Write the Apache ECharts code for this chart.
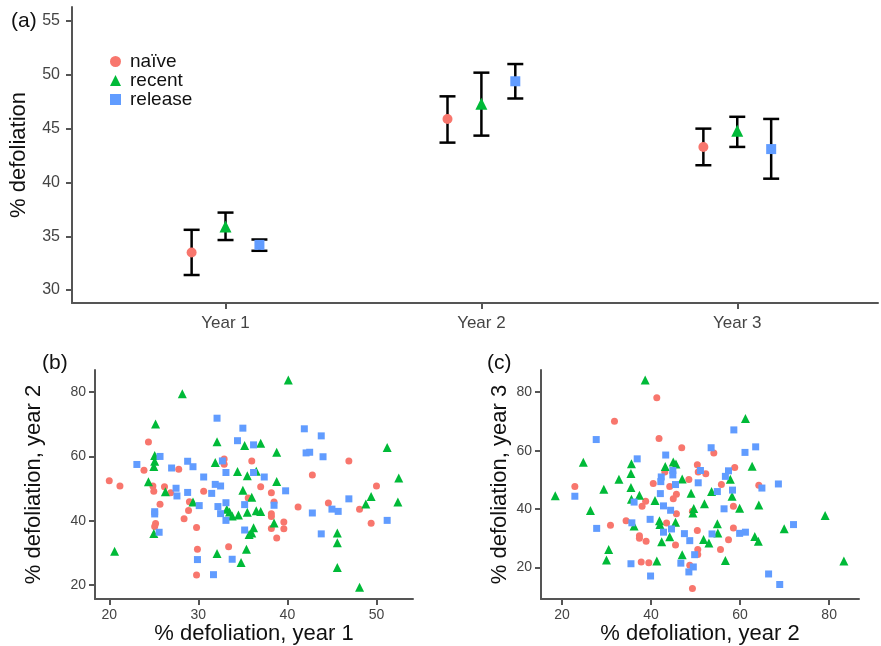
<!DOCTYPE html>
<html>
<head>
<meta charset="utf-8">
<script src="https://cdn.jsdelivr.net/npm/echarts@6/dist/echarts.min.js"></script>
<style>
  html, body { margin: 0; padding: 0; background: #fff; }
  #chart { width: 881px; height: 646px; }
</style>
</head>
<body>
<div id="chart"></div>
<script>
// ---- panel (a): group means with error bars, by year ----
const groups = ['naïve', 'recent', 'release'];
const years = ['Year 1', 'Year 2', 'Year 3'];
const yearPos = [1, 2, 3];

const naiveMean = [33.5, 45.9, 43.3];
const naiveLow = [31.4, 43.7, 41.6];
const naiveHigh = [35.6, 48.0, 45.0];

const recentMean = [35.9, 47.3, 44.8];
const recentLow = [34.65, 44.35, 43.3];
const recentHigh = [37.2, 50.2, 46.1];

const releaseMean = [34.2, 49.4, 43.1];
const releaseLow = [33.65, 47.8, 40.35];
const releaseHigh = [34.7, 51.0, 45.9];

const ticksA = [30, 35, 40, 45, 50, 55];

// ---- panel (b): year 1 vs year 2 defoliation ----
const ticksBx = [20, 30, 40, 50];
const ticksBy = [20, 40, 60, 80];

const naiveY1Y2 = [
  [20.0,52.4],[21.2,50.8],[24.4,64.5],[23.9,55.7],[24.9,50.8],[25.0,49.2],[25.7,45.1],[25.2,39.1],
  [25.1,38.2],[26.2,50.6],[26.9,48.7],[27.8,56.0],[28.4,40.6],[28.9,43.2],[29.0,45.9],[29.8,37.9],
  [29.9,31.1],[29.8,23.1],[30.6,49.2],[32.9,59.2],[32.9,57.6],[33.4,31.9],[36.0,58.6],[35.6,47.1],
  [37.0,50.6],[38.2,48.7],[38.5,45.8],[38.2,42.2],[38.2,41.3],[39.6,39.6],[39.6,37.5],[38.2,37.6],
  [38.8,34.6],[41.2,44.3],[42.8,54.2],[44.6,45.5],[46.9,58.6],[48.1,43.6],[49.4,39.2],[50.0,50.8]
];
const recentY1Y2 = [
  [20.6,30.5],[24.4,52.1],[25.2,70.1],[25.1,60.3],[25.1,58.5],[25.0,56.9],[25.0,36.0],[26.3,49.0],
  [28.2,79.5],[29.4,45.8],[31.9,58.1],[32.1,64.6],[32.1,29.8],[33.2,43.6],[33.5,42.7],[33.8,41.5],
  [34.5,41.8],[34.4,55.3],[35.0,49.5],[35.2,63.4],[35.5,54.0],[35.5,42.6],[35.4,31.1],[34.8,27.0],
  [35.7,35.7],[36.2,37.8],[36.0,36.2],[36.5,55.4],[37.0,64.1],[36.0,47.3],[36.5,43.1],[37.0,42.9],
  [38.8,61.3],[38.8,52.2],[38.5,39.3],[40.1,83.8],[45.6,36.2],[45.6,33.1],[45.6,25.4],[48.1,19.3],
  [48.8,45.2],[49.4,47.5],[51.2,62.8],[52.5,53.3],[52.4,45.8]
];
const releaseY1Y2 = [
  [23.1,57.5],[25.7,60.0],[25.1,42.8],[25.1,42.1],[25.6,36.4],[27.0,56.4],[27.5,50.1],[27.6,47.7],
  [28.8,58.5],[29.4,56.8],[28.8,48.8],[30.1,44.7],[29.9,27.9],[30.6,53.6],[31.7,23.2],[32.1,71.9],
  [31.9,51.3],[32.5,50.8],[31.5,48.5],[32.2,44.4],[32.5,42.2],[33.1,40.1],[32.7,58.6],[33.1,55.0],
  [33.1,45.6],[33.8,28.0],[34.4,64.9],[35.0,68.8],[35.2,45.0],[35.2,37.1],[36.2,63.6],[36.2,55.0],
  [37.4,53.6],[38.5,44.8],[39.8,49.3],[41.9,68.6],[42.1,61.1],[42.5,61.3],[44.0,59.9],[43.8,66.4],
  [42.8,42.4],[43.8,35.9],[45.0,43.6],[45.7,42.9],[46.9,46.8],[51.2,40.1]
];

// ---- panel (c): year 2 vs year 3 defoliation ----
const ticksC = [20, 40, 60, 80];

const naiveY2Y3 = [
  [22.9,47.7],[30.9,34.5],[31.8,70.1],[34.4,36.0],[37.4,30.9],[37.4,30.0],[38.0,41.0],[38.8,42.7],
  [38.9,29.0],[37.8,21.9],[39.5,21.6],[40.5,48.8],[41.3,78.1],[41.8,64.2],[43.1,52.7],[43.5,35.2],
  [44.2,47.7],[45.0,43.5],[45.7,45.1],[45.7,38.4],[45.5,27.7],[46.9,61.0],[48.5,50.1],[48.7,20.8],
  [49.3,12.8],[49.3,39.3],[50.4,55.2],[50.6,52.7],[50.4,32.7],[50.5,26.2],[50.5,24.5],[52.3,52.1],
  [54.1,59.2],[55.6,26.2],[55.8,48.4],[57.4,29.5],[58.5,41.0],[58.5,33.5],[58.8,54.2],[64.2,48.2]
];
const recentY2Y3 = [
  [18.5,44.6],[24.8,56.0],[26.4,39.5],[29.4,46.8],[30.0,22.6],[30.5,26.2],[32.8,50.2],[35.5,52.2],
  [35.6,55.5],[35.5,47.4],[35.6,43.4],[36.2,34.2],[37.4,44.7],[38.7,84.2],[40.9,42.9],[41.3,22.2],
  [41.9,36.0],[42.0,34.7],[42.4,28.8],[43.2,54.6],[44.2,30.5],[45.0,56.1],[45.6,55.4],[45.5,35.5],
  [47.0,50.3],[47.0,24.4],[49.0,45.4],[49.6,40.2],[49.4,38.7],[52.0,41.8],[51.8,29.6],[53.0,28.4],
  [53.6,46.0],[54.9,35.0],[55.0,31.8],[56.7,22.4],[57.8,50.2],[58.2,44.4],[59.9,40.3],[61.2,71.0],
  [62.7,54.7],[63.3,30.6],[64.1,29.0],[64.2,41.4],[69.9,33.3],[79.1,37.8],[83.3,22.2]
];
const releaseY2Y3 = [
  [22.9,44.4],[27.7,63.8],[27.8,33.4],[35.7,35.3],[35.5,21.3],[36.2,42.4],[36.9,57.2],[39.8,36.5],
  [39.9,17.1],[42.1,45.3],[42.3,51.0],[42.2,49.4],[42.8,41.1],[42.8,32.1],[43.3,58.5],[44.4,39.6],
  [44.6,33.2],[44.9,53.2],[44.9,51.7],[45.5,48.4],[46.7,21.5],[47.5,31.6],[48.7,29.2],[48.5,18.5],
  [49.5,20.2],[49.8,24.4],[50.6,49.0],[51.1,53.2],[53.5,61.0],[53.7,31.5],[54.9,46.0],[56.4,40.1],
  [56.7,51.2],[57.4,53.1],[58.3,46.5],[58.6,67.1],[59.9,31.7],[61.1,59.4],[61.2,32.1],[63.5,61.3],
  [64.9,47.2],[66.4,17.8],[68.6,48.6],[68.9,14.2],[72.0,34.7]
];

// ---- styling ----
const FONT = "'Liberation Sans', Arial, Helvetica, sans-serif";
const COLORS = { 'naïve': '#F8766D', 'recent': '#00BA38', 'release': '#619CFF' };
const SYMBOLS = { 'naïve': 'circle', 'recent': 'triangle', 'release': 'rect' };
const SIZE_A = { 'naïve': 10, 'recent': 12, 'release': 10 };
const SIZE_BC = { 'naïve': 7, 'recent': 9, 'release': 7 };
const DODGE = { 'naïve': -0.1325, 'recent': 0, 'release': 0.1325 };
const AXIS_COLOR = '#555555';
const LABEL_COLOR = '#444444';

function axis(ticks, fontSize, margin, extra) {
  return Object.assign({
    type: 'value',
    axisLine: { show: true, onZero: false, lineStyle: { color: AXIS_COLOR, width: 2 } },
    axisTick: { show: true, length: 6, customValues: ticks, lineStyle: { color: AXIS_COLOR, width: 2 } },
    axisLabel: { customValues: ticks, color: LABEL_COLOR, fontSize: fontSize, fontFamily: FONT, margin: margin },
    splitLine: { show: false },
    nameLocation: 'middle',
    nameTextStyle: { fontSize: 22, fontFamily: FONT, color: '#111' }
  }, extra);
}

const meanData = {
  'naïve': [naiveMean, naiveLow, naiveHigh],
  'recent': [recentMean, recentLow, recentHigh],
  'release': [releaseMean, releaseLow, releaseHigh]
};

function errorBarItem(params, api) {
  const x = api.value(0);
  const pLo = api.coord([x, api.value(1)]);
  const pHi = api.coord([x, api.value(2)]);
  const half = 8;
  const style = { stroke: '#000', lineWidth: 2.5, fill: null };
  return {
    type: 'group',
    children: [
      { type: 'line', shape: { x1: pLo[0], y1: pLo[1], x2: pHi[0], y2: pHi[1] }, style: style },
      { type: 'line', shape: { x1: pLo[0] - half, y1: pLo[1], x2: pLo[0] + half, y2: pLo[1] }, style: style },
      { type: 'line', shape: { x1: pHi[0] - half, y1: pHi[1], x2: pHi[0] + half, y2: pHi[1] }, style: style }
    ]
  };
}

const series = [];

// error bars (drawn under the points)
groups.forEach(function (g) {
  const lo = meanData[g][1], hi = meanData[g][2];
  series.push({
    type: 'custom',
    xAxisIndex: 0, yAxisIndex: 0,
    renderItem: errorBarItem,
    encode: { x: 0, y: [1, 2] },
    data: yearPos.map(function (p, i) { return [p + DODGE[g], lo[i], hi[i]]; }),
    z: 2,
    silent: true
  });
});

// means
groups.forEach(function (g) {
  const m = meanData[g][0];
  series.push({
    name: g,
    type: 'scatter',
    xAxisIndex: 0, yAxisIndex: 0,
    symbol: SYMBOLS[g],
    symbolSize: SIZE_A[g],
    itemStyle: { color: COLORS[g], opacity: 1 },
    data: yearPos.map(function (p, i) { return [p + DODGE[g], m[i]]; }),
    z: 3
  });
});

// scatter panels
const scatterB = { 'naïve': naiveY1Y2, 'recent': recentY1Y2, 'release': releaseY1Y2 };
const scatterC = { 'naïve': naiveY2Y3, 'recent': recentY2Y3, 'release': releaseY2Y3 };
[[scatterB, 1], [scatterC, 2]].forEach(function (pair) {
  groups.forEach(function (g) {
    series.push({
      name: g,
      type: 'scatter',
      xAxisIndex: pair[1], yAxisIndex: pair[1],
      symbol: SYMBOLS[g],
      symbolSize: SIZE_BC[g],
      itemStyle: { color: COLORS[g], opacity: 1 },
      data: pair[0][g],
      z: 3
    });
  });
});

const chart = echarts.init(document.getElementById('chart'), null, { renderer: 'canvas' });
chart.setOption({
  animation: false,
  backgroundColor: '#ffffff',
  grid: [
    { left: 70, top: 7, width: 808, height: 296 },
    { left: 95, top: 370, width: 318, height: 230 },
    { left: 541, top: 370, width: 318, height: 230 }
  ],
  xAxis: [
    axis(yearPos, 17, 12, {
      gridIndex: 0, min: 0.4, max: 3.55,
      axisLabel: { customValues: yearPos, color: LABEL_COLOR, fontSize: 17, fontFamily: FONT, margin: 12,
        formatter: function (v) { return years[Math.round(v) - 1]; } }
    }),
    axis(ticksBx, 14, 9, { gridIndex: 1, min: 18.4, max: 54.1, name: '% defoliation, year 1', nameGap: 21 }),
    axis(ticksC, 14, 9, { gridIndex: 2, min: 15.3, max: 86.7, name: '% defoliation, year 2', nameGap: 21 })
  ],
  yAxis: [
    axis(ticksA, 16, 12, { gridIndex: 0, min: 28.8, max: 56.3, name: '% defoliation', nameGap: 42 }),
    axis(ticksBy, 14, 9, { gridIndex: 1, min: 15.6, max: 86.9, name: '% defoliation, year 2', nameGap: 50 }),
    axis(ticksC, 14, 9, { gridIndex: 2, min: 9.2, max: 87.6, name: '% defoliation, year 3', nameGap: 30 })
  ],
  legend: {
    orient: 'vertical',
    left: 105, top: 47,
    itemGap: 0,
    itemWidth: 11, itemHeight: 11,
    selectedMode: false,
    data: groups.map(function (g) { return { name: g, icon: SYMBOLS[g] }; }),
    textStyle: { fontSize: 19, fontFamily: FONT, color: '#111', lineHeight: 19, padding: [0, 0, 0, 4] }
  },
  graphic: [
    { type: 'text', left: 11, top: 11, style: { text: '(a)', fontSize: 21, fontFamily: FONT, fill: '#111' } },
    { type: 'text', left: 42, top: 353, style: { text: '(b)', fontSize: 21, fontFamily: FONT, fill: '#111' } },
    { type: 'text', left: 487, top: 353, style: { text: '(c)', fontSize: 21, fontFamily: FONT, fill: '#111' } }
  ],
  series: series
});
</script>
</body>
</html>
